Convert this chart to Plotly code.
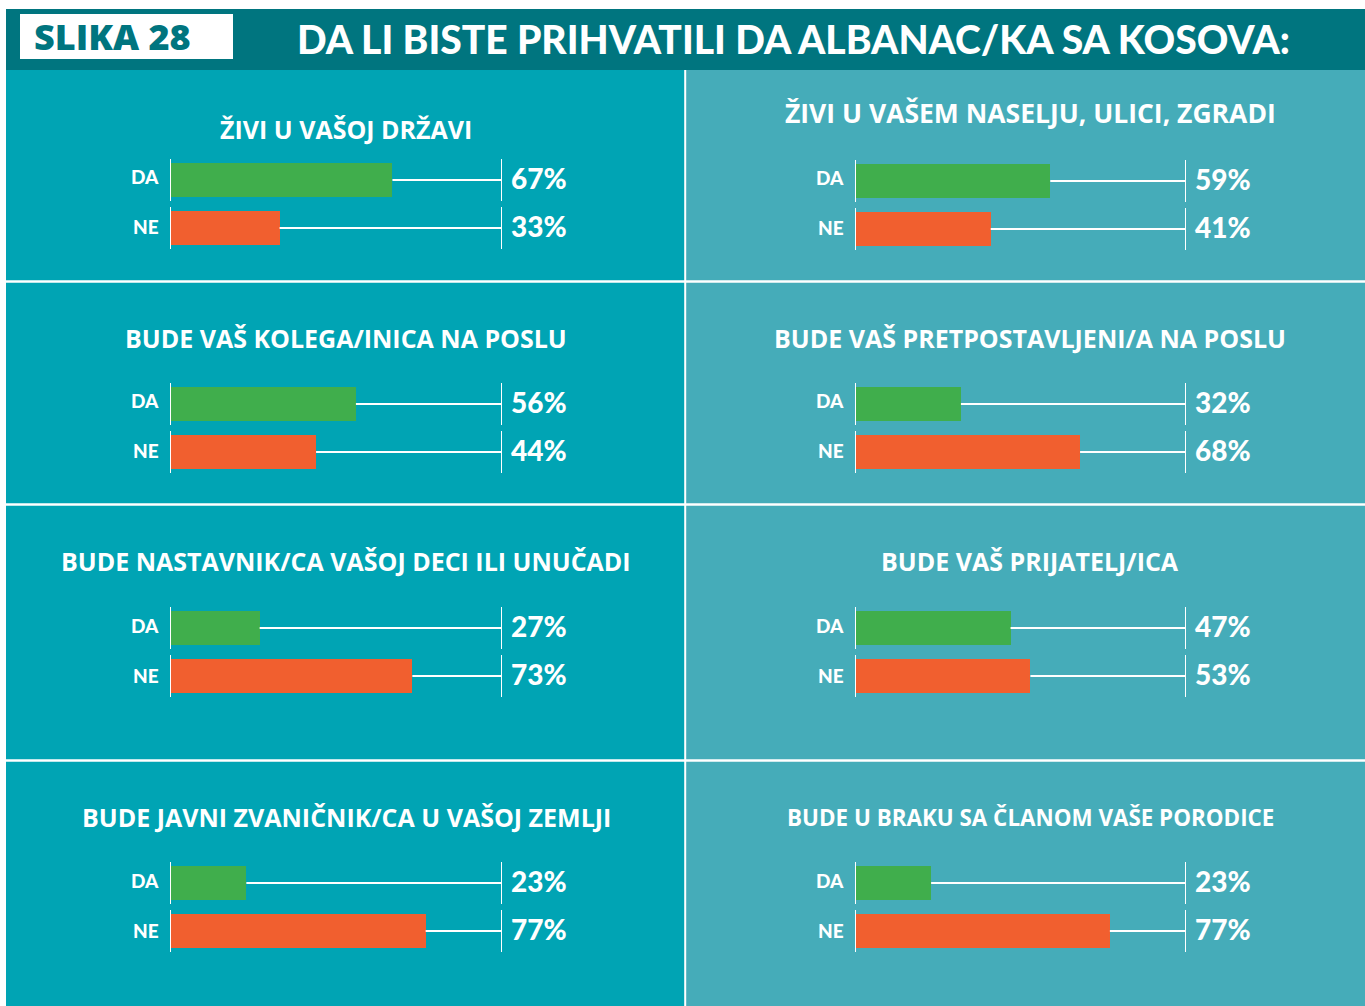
import plotly.graph_objects as go

W, H = 1365, 1006

header_label = "SLIKA 28"
header_title = "DA LI BISTE PRIHVATILI DA ALBANAC/KA SA KOSOVA:"
answers = ["DA", "NE"]

titles = [
    "ŽIVI U VAŠOJ DRŽAVI",
    "ŽIVI U VAŠEM NASELJU, ULICI, ZGRADI",
    "BUDE VAŠ KOLEGA/INICA NA POSLU",
    "BUDE VAŠ PRETPOSTAVLJENI/A NA POSLU",
    "BUDE NASTAVNIK/CA VAŠOJ DECI ILI UNUČADI",
    "BUDE VAŠ PRIJATELJ/ICA",
    "BUDE JAVNI ZVANIČNIK/CA U VAŠOJ ZEMLJI",
    "BUDE U BRAKU SA ČLANOM VAŠE PORODICE",
]
da_values = [67, 59, 56, 32, 27, 47, 23, 23]
ne_values = [33, 41, 44, 68, 73, 53, 77, 77]

# layout (pixels)
col_x = [(170, 502), (855, 1186)]
col_center = [346, 1030]
row_da_center = [[180, 181], [404, 404], [628, 628], [883, 883]]
title_y = [[129, 113], [338, 338], [561, 561], [817, 817]]
title_size = [25, 26.5, 25, 25, 25, 25, 25, 22.4]

GREEN = "#40ae4c"
ORANGE = "#f15f2f"
DARK = "#00757f"
LEFT_BG = "#00a4b4"
RIGHT_BG = "#45acb9"

def px(x):
    return x / W

def py(y):
    return 1 - y / H

fig = go.Figure()
shapes = []
annotations = []

# backgrounds
shapes.append(dict(type="rect", xref="paper", yref="paper", x0=px(6), x1=px(1365), y0=py(70), y1=py(9),
                   fillcolor=DARK, line_width=0, layer="below"))
shapes.append(dict(type="rect", xref="paper", yref="paper", x0=px(6), x1=px(685), y0=py(1006), y1=py(70),
                   fillcolor=LEFT_BG, line_width=0, layer="below"))
shapes.append(dict(type="rect", xref="paper", yref="paper", x0=px(685), x1=px(1365), y0=py(1006), y1=py(70),
                   fillcolor=RIGHT_BG, line_width=0, layer="below"))
shapes.append(dict(type="rect", xref="paper", yref="paper", x0=px(20), x1=px(233), y0=py(59), y1=py(14),
                   fillcolor="white", line_width=0, layer="below"))
for yy in [281.5, 504.5, 760.5]:
    shapes.append(dict(type="line", xref="paper", yref="paper", x0=px(6), x1=px(1365), y0=py(yy), y1=py(yy),
                       line=dict(color="white", width=2.5), layer="below"))
shapes.append(dict(type="line", xref="paper", yref="paper", x0=px(685.2), x1=px(685.2), y0=py(1006), y1=py(70),
                   line=dict(color="white", width=2), layer="below"))

annotations.append(dict(text=header_label, xref="paper", yref="paper", x=px(32), y=py(36), xanchor="left",
                        yanchor="middle", showarrow=False,
                        font=dict(family="Open Sans", size=36, color=DARK, weight=800)))
annotations.append(dict(text=header_title, xref="paper", yref="paper", x=px(793), y=py(39), xanchor="center",
                        yanchor="middle", showarrow=False,
                        font=dict(family="Lato", size=39, color="white", weight=900)))

layout_axes = {}
for k in range(8):
    row, col = k // 2, k % 2
    n = k + 1
    xs = "" if n == 1 else str(n)
    x0, x1 = col_x[col]
    c = row_da_center[row][col]
    top, bot = c - 24, c + 72
    layout_axes[f"xaxis{xs}"] = dict(domain=[px(x0), px(x1)], range=[0, 100], anchor=f"y{xs}",
                                     showgrid=False, zeroline=False, showticklabels=False, showline=False,
                                     fixedrange=True)
    layout_axes[f"yaxis{xs}"] = dict(domain=[py(bot), py(top)], range=[1.5, -0.5], anchor=f"x{xs}",
                                     showticklabels=False, ticks="", showgrid=False,
                                     zeroline=False, showline=False, fixedrange=True)
    vals = [da_values[k], ne_values[k]]
    xa, ya = f"x{xs}", f"y{xs}"
    fig.add_trace(go.Bar(x=vals, y=[0, 1], orientation="h", width=0.69,
                         marker=dict(color=[GREEN, ORANGE], line_width=0),
                         xaxis=xa, yaxis=ya, hoverinfo="skip", showlegend=False))
    for i, v in enumerate(vals):
        fig.add_trace(go.Scatter(x=[v, 100], y=[i, i], mode="lines", line=dict(color="white", width=2),
                                 xaxis=xa, yaxis=ya, hoverinfo="skip", showlegend=False))
        for xv in [0, 100]:
            shapes.append(dict(type="line", xref=xa, yref=ya, x0=xv, x1=xv, y0=i - 0.44, y1=i + 0.44,
                               line=dict(color="white", width=2)))
        annotations.append(dict(text=f"{v}%", xref=xa, yref=ya, x=100, y=i, xanchor="left", yanchor="middle",
                                xshift=7, yshift=2, showarrow=False,
                                font=dict(family="Lato", size=28, color="white", weight=900)))
        annotations.append(dict(text=answers[i], xref=xa, yref=ya, x=0, y=i, xanchor="right", yanchor="middle",
                                xshift=-9, yshift=3 if i == 0 else 1, showarrow=False,
                                font=dict(family="Lato", size=19, color="white", weight=900)))
    annotations.append(dict(text=titles[k], xref="paper", yref="paper", x=px(col_center[col]),
                            y=py(title_y[row][col]), xanchor="center", yanchor="middle", showarrow=False,
                            font=dict(family="Open Sans", size=title_size[k], color="white", weight=700)))

fig.update_layout(width=W, height=H, margin=dict(l=0, r=0, t=0, b=0), paper_bgcolor="white",
                  plot_bgcolor="rgba(0,0,0,0)", shapes=shapes, annotations=annotations, bargap=0,
                  **layout_axes)

fig.write_html("out.html", config={"displayModeBar": False},
               post_script="document.body.style.margin='0px';")
